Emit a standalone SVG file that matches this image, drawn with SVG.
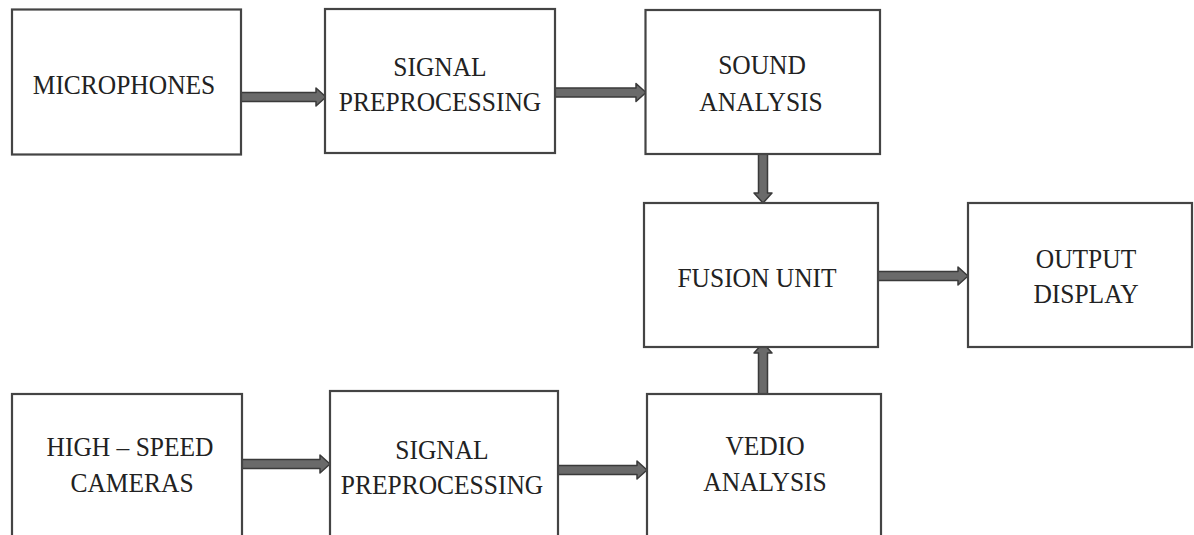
<svg xmlns="http://www.w3.org/2000/svg" width="1194" height="535" viewBox="0 0 1194 535">
  <style>
    .box { fill: #ffffff; stroke: #444444; stroke-width: 2.2; }
    .lbl { font-family: "Liberation Serif", "Times New Roman", serif; font-size: 28px; fill: #222222; text-anchor: middle; }
    .arrow { fill: #6a6a6a; stroke: #3a3a3a; stroke-width: 1.5; stroke-linejoin: round; }
  </style>
  <rect width="1194" height="535" fill="#ffffff"/>

  <!-- Block arrows between stages -->
  <g id="connectors">
    <polygon class="arrow" points="241,92.5 316,92.5 316,88 326,97 316,106 316,101.5 241,101.5"/>
    <polygon class="arrow" points="555,88 636,88 636,83.5 646,92.5 636,101.5 636,97 555,97"/>
    <polygon class="arrow" points="758.5,154 758.5,193 754,193 763,203 772,193 767.5,193 767.5,154"/>
    <polygon class="arrow" points="878,271.5 958,271.5 958,267 968,276 958,285 958,280.5 878,280.5"/>
    <polygon class="arrow" points="758.5,394 758.5,353 754,353 763,343 772,353 767.5,353 767.5,394"/>
    <polygon class="arrow" points="242,459.5 320,459.5 320,455 330,464 320,473 320,468.5 242,468.5"/>
    <polygon class="arrow" points="558,465.5 637,465.5 637,461 647,470 637,479 637,474.5 558,474.5"/>
  </g>

  <g id="microphones">
    <rect class="box" x="12" y="9.5" width="229" height="145"/>
    <text class="lbl" transform="translate(124,94) scale(0.91,1)">MICROPHONES</text>
  </g>

  <g id="signal-preprocessing-audio">
    <rect class="box" x="325" y="9" width="230" height="144"/>
    <text class="lbl" transform="translate(440,76) scale(0.91,1)">SIGNAL</text>
    <text class="lbl" transform="translate(440,111) scale(0.91,1)">PREPROCESSING</text>
  </g>

  <g id="sound-analysis">
    <rect class="box" x="645.5" y="10" width="234.5" height="144"/>
    <text class="lbl" transform="translate(762,74) scale(0.91,1)">SOUND</text>
    <text class="lbl" transform="translate(761,111) scale(0.91,1)">ANALYSIS</text>
  </g>

  <g id="fusion-unit">
    <rect class="box" x="644" y="203" width="234" height="144"/>
    <text class="lbl" transform="translate(757,287) scale(0.91,1)">FUSION UNIT</text>
  </g>

  <g id="output-display">
    <rect class="box" x="968" y="203" width="224" height="144"/>
    <text class="lbl" transform="translate(1086,268) scale(0.91,1)">OUTPUT</text>
    <text class="lbl" transform="translate(1086,303) scale(0.91,1)">DISPLAY</text>
  </g>

  <g id="high-speed-cameras">
    <rect class="box" x="12" y="394" width="230" height="160"/>
    <text class="lbl" transform="translate(130,456) scale(0.91,1)">HIGH – SPEED</text>
    <text class="lbl" transform="translate(132,492) scale(0.91,1)">CAMERAS</text>
  </g>

  <g id="signal-preprocessing-video">
    <rect class="box" x="330" y="391" width="228" height="160"/>
    <text class="lbl" transform="translate(442,459) scale(0.91,1)">SIGNAL</text>
    <text class="lbl" transform="translate(442,494) scale(0.91,1)">PREPROCESSING</text>
  </g>

  <g id="vedio-analysis">
    <rect class="box" x="647" y="394" width="234" height="160"/>
    <text class="lbl" transform="translate(765,455) scale(0.91,1)">VEDIO</text>
    <text class="lbl" transform="translate(765,491) scale(0.91,1)">ANALYSIS</text>
  </g>
</svg>
